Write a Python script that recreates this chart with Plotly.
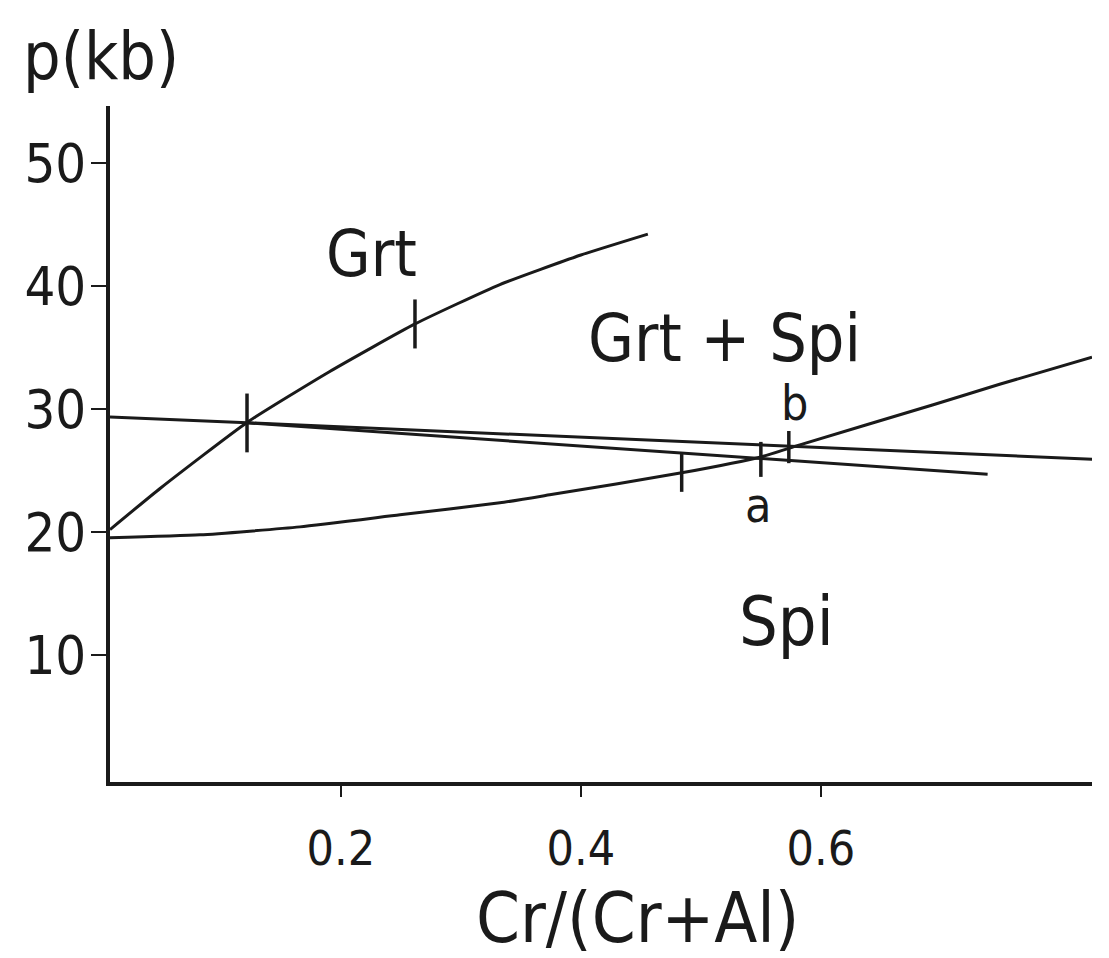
import plotly.graph_objects as go

# ---- data ----
grt_x = [0.0075, 0.05, 0.1217, 0.19, 0.2617, 0.3325, 0.40, 0.4558]
grt_y = [20.2, 23.6, 28.9, 33.0, 36.9, 40.1, 42.5, 44.2]

upper_x = [0.0075, 0.1217, 0.83]
upper_y = [29.35, 28.87, 25.9]

lower_x = [0.1217, 0.739]
lower_y = [28.87, 24.7]

spi_x = [0.0075, 0.0825, 0.1658, 0.2492, 0.3325, 0.374, 0.484, 0.55, 0.5825, 0.693, 0.749, 0.826]
spi_y = [19.53, 19.77, 20.42, 21.40, 22.37, 23.02, 24.81, 26.10, 27.08, 30.32, 32.0, 34.2]

mark_x = [0.1217, 0.2617, 0.484, 0.55, 0.5733]
mark_y = [28.86, 36.9, 24.8, 25.9, 26.9]

x_tickvals = [0.2, 0.4, 0.6]
x_ticktext = ["0.2", "0.4", "0.6"]
y_tickvals = [10, 20, 30, 40, 50]
y_ticktext = ["10", "20", "30", "40", "50"]

labels = ["Grt", "Grt + Spi", "Spi", "a", "b"]
label_x = [0.2258, 0.52, 0.5717, 0.5475, 0.578]
label_y = [42.59, 35.69, 12.7, 22.2, 30.49]

x_title = "Cr/(Cr+Al)"
y_title = "p(kb)"

# ---- style ----
INK = "#1a1a1a"
FONT = "DejaVu Sans Condensed, DejaVu Sans, sans-serif"
mark_sizes = [42, 35, 27, 25, 23]
label_sizes = [64, 66, 68, 48, 48]

fig = go.Figure()
for xs, ys in [(grt_x, grt_y), (upper_x, upper_y), (lower_x, lower_y), (spi_x, spi_y)]:
    fig.add_trace(go.Scatter(x=xs, y=ys, mode="lines",
                             line=dict(color=INK, width=3, shape="spline", smoothing=0.5),
                             showlegend=False, hoverinfo="skip"))

fig.add_trace(go.Scatter(x=mark_x, y=mark_y, mode="markers", showlegend=False, hoverinfo="skip",
                         marker=dict(symbol="line-ns", size=mark_sizes, color=INK, opacity=1,
                                     line=dict(color=INK, width=3.5))))

for t, x, y, s in zip(labels, label_x, label_y, label_sizes):
    fig.add_annotation(x=x, y=y, text=t, showarrow=False, xanchor="center", yanchor="middle",
                       font=dict(family=FONT, size=s, color=INK))

# y-axis title (horizontal, above the axis)
fig.add_annotation(xref="paper", yref="paper", x=-0.0092, y=1.0725, text=y_title, showarrow=False,
                   xanchor="center", yanchor="middle", font=dict(family=FONT, size=66, color=INK))
# x-axis title
fig.add_annotation(xref="paper", yref="paper", x=0.537, y=-0.201, text=x_title, showarrow=False,
                   xanchor="center", yanchor="middle", font=dict(family=FONT, size=70, color=INK))

fig.update_xaxes(range=[0.0075, 0.826], tickvals=x_tickvals, ticktext=x_ticktext,
                 showline=True, linecolor=INK, linewidth=4, showgrid=False, zeroline=False,
                 ticks="outside", ticklen=11, tickwidth=2, tickcolor=INK,
                 tickfont=dict(family=FONT, size=48, color=INK), ticklabelstandoff=10)
fig.update_yaxes(range=[-0.3, 54.6], tickvals=y_tickvals, ticktext=y_ticktext,
                 showline=True, linecolor=INK, linewidth=4, showgrid=False, zeroline=False,
                 ticks="outside", ticklen=15, tickwidth=2, tickcolor=INK,
                 tickfont=dict(family=FONT, size=54, color=INK), ticklabelstandoff=-6)

fig.update_layout(width=1109, height=958, margin=dict(l=110, r=17, t=106, b=176),
                  plot_bgcolor="white", paper_bgcolor="white")

fig.write_html("out.html")
